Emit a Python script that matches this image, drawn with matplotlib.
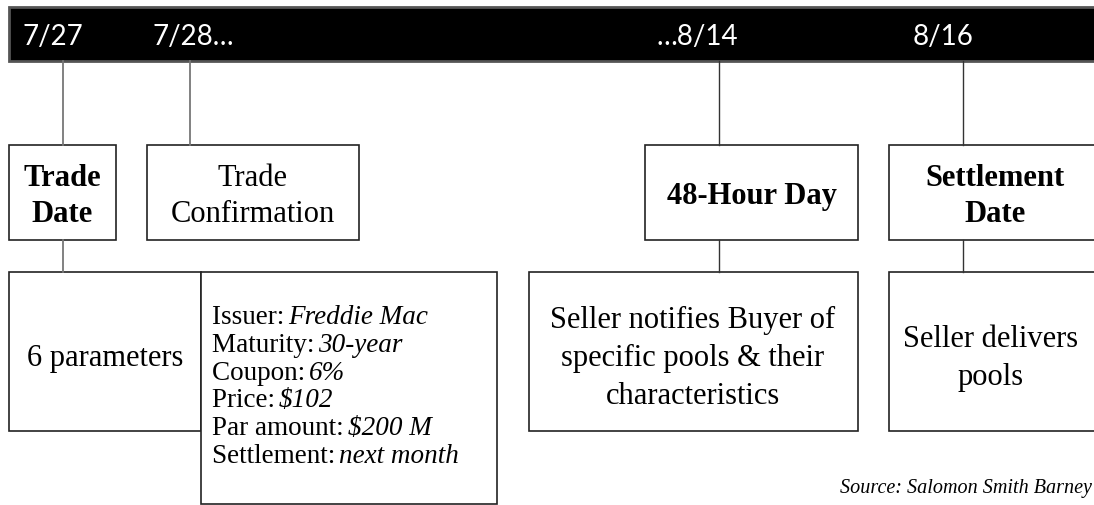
import matplotlib
matplotlib.use("Agg")
import matplotlib.pyplot as plt
from matplotlib.patches import Rectangle

# timeline labels (dates on the black bar)
dates = ["7/27", "7/28\u2026", "\u20268/14", "8/16"]
date_x = [23, 152, 657, 913]

# upper boxes: label, bold?
upper_labels = ["Trade\nDate", "Trade\nConfirmation", "48-Hour Day", "Settlement\nDate"]
upper_bold = [True, False, True, True]
upper_x0 = [9, 147, 645, 889]
upper_x1 = [116, 359, 858, 1100]
upper_cx = [62.5, 253, 751.5, 995]
connector_x = [63, 190, 719, 963]
connector_col = ["#777777", "#777777", "#333333", "#333333"]

# lower boxes
lower_labels = ["6 parameters", "Seller notifies Buyer of\nspecific pools & their\ncharacteristics",
                "Seller delivers\npools"]
lower_x0 = [9, 529, 889]
lower_x1 = [201, 858, 1100]
lower_cx = [105, 693, 991]
lower_from = [0, 2, 3]  # which upper box each hangs from

# trade parameters
param_names = ["Issuer: ", "Maturity: ", "Coupon: ", "Price: ", "Par amount: ", "Settlement: "]
param_values = ["Freddie Mac", "30-year", "6%", "$102", "$200 M", "next month"]

source = "Source: Salomon Smith Barney"

SERIF = ["Liberation Serif", "DejaVu Serif"]
SANS = ["Lato", "DejaVu Sans"]

fig = plt.figure(figsize=(10.94, 5.06), dpi=100)
ax = fig.add_axes([0, 0, 1, 1])
ax.set_xlim(0, 1094)
ax.set_ylim(506, 0)
ax.axis("off")

# black timeline bar
ax.add_patch(Rectangle((9, 8), 1100, 54, facecolor="black", edgecolor="#555555", lw=2))
for d, x in zip(dates, date_x):
    ax.text(x, 45, d, color="white", fontsize=20, family=SANS, ha="left", va="baseline")

top_y0, top_y1 = 146, 241
low_y0, low_y1 = 273, 432

# connectors bar -> upper boxes
for x, c in zip(connector_x, connector_col):
    ax.plot([x, x], [62, top_y0], color=c, lw=1.3 if c == "#777777" else 1.0)

# upper boxes
for lab, b, x0, x1, cx in zip(upper_labels, upper_bold, upper_x0, upper_x1, upper_cx):
    ax.add_patch(Rectangle((x0, top_y0), x1 - x0, top_y1 - top_y0, facecolor="white",
                           edgecolor="#222222", lw=1.2))
    ax.text(cx, (top_y0 + top_y1) / 2 + 3, lab, fontsize=22, family=SERIF,
            fontweight="bold" if b else "normal", ha="center", va="center",
            linespacing=1.32)

# connectors upper -> lower boxes
for i in lower_from:
    x = connector_x[i]
    ax.plot([x, x], [top_y1, low_y0], color=connector_col[i], lw=1.3 if i == 0 else 1.0)

# lower boxes
for lab, x0, x1, cx in zip(lower_labels, lower_x0, lower_x1, lower_cx):
    ax.add_patch(Rectangle((x0, low_y0), x1 - x0, low_y1 - low_y0, facecolor="white",
                           edgecolor="#222222", lw=1.2))
    ax.text(cx, (low_y0 + low_y1) / 2 + 6, lab, fontsize=22, family=SERIF,
            ha="center", va="center", linespacing=1.42)

# parameter box
ax.add_patch(Rectangle((201, low_y0), 296, 232, facecolor="white", edgecolor="#222222", lw=1.2))
fig.canvas.draw()
renderer = fig.canvas.get_renderer()
inv = ax.transData.inverted()
for k, (name, val) in enumerate(zip(param_names, param_values)):
    y = 324 + k * 27.8
    t = ax.text(212, y, name, fontsize=19.5, family=SERIF, ha="left", va="baseline")
    bb = t.get_window_extent(renderer=renderer)
    xe = inv.transform((bb.x1, bb.y0))[0]
    ax.text(xe - 3, y, val, fontsize=19.5, family=SERIF, style="italic",
            ha="left", va="baseline")

ax.text(1092, 493, source, fontsize=14.5, family=SERIF, style="italic",
        ha="right", va="baseline")

fig.savefig("out.png", dpi=100)
